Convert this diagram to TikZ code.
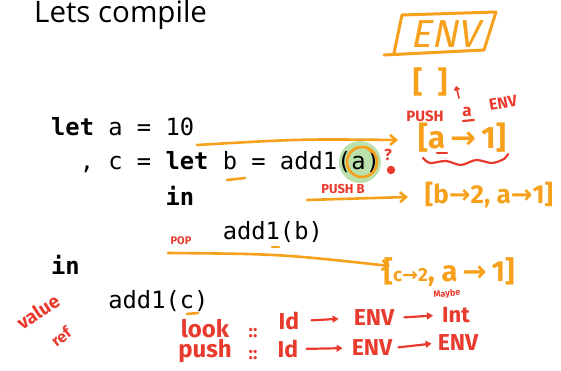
\documentclass[tikz,border=0pt]{standalone}
\usepackage{fontspec}
\setmainfont{Open Sans}
\setmonofont{DejaVu Sans Mono}
\newfontfamily\handfont{Fira Sans}
\newfontfamily\handslant[FakeSlant=0.2]{Fira Sans}
\newfontfamily\arrfont{DejaVu Sans}
\usetikzlibrary{arrows.meta}
\definecolor{inkorange}{RGB}{247,160,27}
\definecolor{inkred}{RGB}{232,58,45}
\definecolor{hilite}{RGB}{186,224,172}
\newcommand\hsz[1]{\fontsize{#1}{#1}\selectfont}
\newcommand\rar{{\arrfont\bfseries →}}
\begin{document}
\begin{tikzpicture}[x=1pt,y=-1pt,
  code/.style={anchor=base west,inner sep=0pt,font=\ttfamily\hsz{23.75}},
  oink/.style={draw=inkorange,line width=2.6pt,line cap=round,line join=round},
  rink/.style={draw=inkred,line width=2.2pt,line cap=round,line join=round},
  otext/.style={inner sep=0pt,text=inkorange,font=\handfont\bfseries},
  rtext/.style={inner sep=0pt,text=inkred,font=\handfont\bfseries},
  tip/.style={-{Straight Barb[length=6pt,width=10pt]}},
  rtip/.style={-{Triangle[length=6pt,width=7pt]}}]
\useasboundingbox (0,0) rectangle (561,371);
\def\cw{14.3}
\def\xo{51}

% highlight behind the argument of add1
\fill[hilite] (360,162) circle (21);

% title
\node[anchor=base west,inner sep=0pt,font=\hsz{29.5}] (title) at (34,23) {Lets compile};

% program text
\node[code] (l1) at (\xo,136) {\textbf{let} a = 10};
\node[code] (l2) at ({\xo+2*\cw},170) {, c = \textbf{let} b = add1(a)};
\node[code] (l3) at ({\xo+8*\cw},205) {\textbf{in}};
\node[code] (l4) at ({\xo+12*\cw},239) {add1(b)};
\node[code] (l5) at (\xo,274) {\textbf{in}};
\node[code] (l6) at ({\xo+4*\cw},308) {add1(c)};

% ENV box
\node[otext,font=\handslant\hsz{39}] (env) at (445,34) {ENV};
\draw[oink,line width=3pt] (402,15) -- (496,12) -- (484,50) -- (384,55);
\draw[oink,line width=3pt] (402,15) -- (394,53);

% environment states
\node[otext,font=\handfont\bfseries\hsz{30}] (e0) at (430,82) {[\,\,\,]};
\coordinate (q0) at (459,98);
\coordinate (q1) at (456,86);
\draw[rink,line width=1.6pt,-{Straight Barb[length=3pt,width=5pt]}] (q0) -- (q1);

\node[rtext,font=\handfont\bfseries\hsz{15}] (pusha) at (425,116) {PUSH};
\node[rtext,font=\handfont\bfseries\hsz{17}] (pa) at (467,112) {a};
\draw[rink] (463,121) -- (474,120);
\node[rtext,font=\handfont\bfseries\hsz{16},rotate=10] (penv) at (503,103) {ENV};

\node[otext,font=\handfont\bfseries\hsz{31}] (e1) at (462,138) {[a\,\rar\,1]};
\draw[rink] (437,153) -- (447,153);
\draw[rink] plot[smooth] coordinates {(423,158) (430,163) (446,161) (461,165) (476,160) (492,163) (504,159) (508,154)};

% first let: a is bound
\coordinate (s1) at (197,145);
\coordinate (t1) at (398,140);
\draw[oink,tip] (s1) .. controls (300,139) .. (t1);
\draw[oink] (362,162) circle (15);
\draw[oink] (366,147) -- (372,152);
\node[rtext,font=\handfont\bfseries\hsz{16}] (qm) at (388,155) {?};
\fill[inkred] (391,170) circle (4.2);

% inner let: b is bound
\draw[oink] (227,180) -- (245,178);
\node[rtext,font=\handfont\bfseries\hsz{13}] (pushb) at (343,189) {PUSH B};
\coordinate (s2) at (307,200);
\coordinate (t2) at (408,197);
\draw[oink,tip] (s2) -- (t2);
\node[otext,font=\handfont\bfseries\hsz{26}] (e2) at (489,195) {[b\rar2, a\rar1]};

% leaving the inner let
\node[rtext,font=\handfont\bfseries\hsz{11}] (pop) at (181,241) {POP};
\draw[oink] (272,247) -- (279,247);
\coordinate (s3) at (168,253);
\coordinate (t3) at (390,266);
\draw[oink,tip] (s3) .. controls (280,254) .. (t3);
\node[otext,font=\handfont\bfseries\hsz{29}] (e3) at (449,272) {[{\hsz{19}c\rar2}, a\,\rar\,1]};
\draw[oink] (187,314) -- (198,313);

% side notes
\node[rtext,font=\handfont\bfseries\hsz{19},rotate=33] (val) at (38,312) {value};
\node[rtext,font=\handfont\bfseries\hsz{16},rotate=38] (ref) at (61,337) {ref};

% signatures
\node[rtext,font=\handfont\bfseries\hsz{24}] (look) at (205,329) {look};
\node[rtext,font=\handfont\bfseries\hsz{24}] (push) at (205,351) {push};
\node[rtext,font=\handfont\bfseries\hsz{18}] (c1) at (253,333) {::};
\node[rtext,font=\handfont\bfseries\hsz{18}] (c2) at (253,355) {::};

\node[rtext,font=\handfont\bfseries\hsz{23}] (id1) at (289,321) {Id};
\node[rtext,font=\handfont\bfseries\hsz{23}] (env1) at (374,318) {ENV};
\node[rtext,font=\handfont\bfseries\hsz{22}] (int1) at (456,315) {Int};
\node[rtext,font=\handfont\bfseries\hsz{9},rotate=6] (maybe) at (447,294) {Maybe};
\draw[rink,rtip,shorten <=12pt,shorten >=15pt] (id1.east) -- (env1.west);
\draw[rink,rtip,shorten <=10pt,shorten >=9pt] (env1.east) -- (int1.west);

\node[rtext,font=\handfont\bfseries\hsz{23}] (id2) at (288,349) {Id};
\node[rtext,font=\handfont\bfseries\hsz{23}] (env2) at (372,348) {ENV};
\node[rtext,font=\handfont\bfseries\hsz{23}] (env3) at (458,343) {ENV};
\draw[rink,rtip,shorten <=8pt,shorten >=9pt] (id2.east) -- (env2.west);
\draw[rink,rtip,shorten <=6pt,shorten >=6pt] (env2.east) -- (env3.west);
\end{tikzpicture}
\end{document}
